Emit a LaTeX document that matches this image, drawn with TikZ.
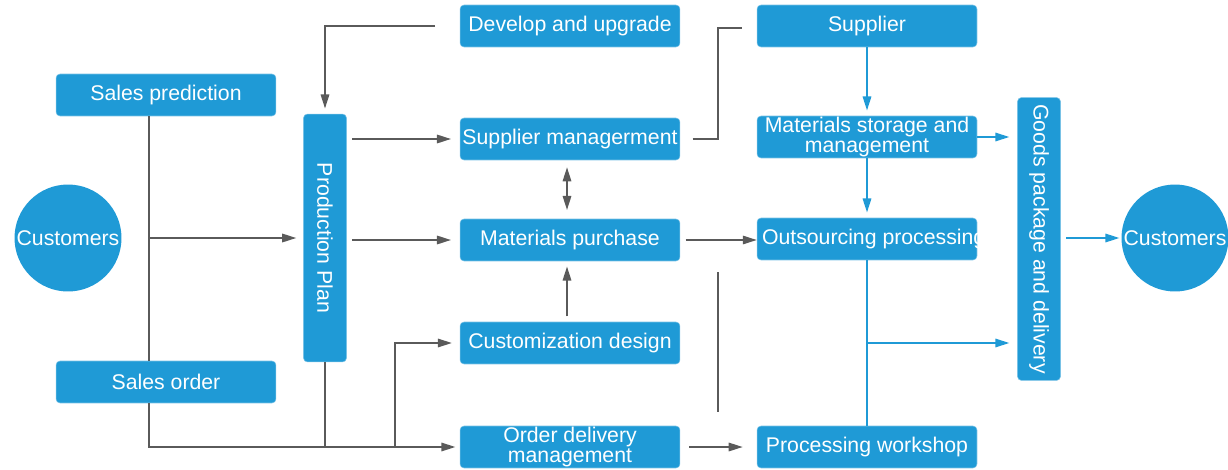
\documentclass[tikz,border=0pt]{standalone}
\usepackage{fontspec}
\setmainfont{Liberation Sans}
\usetikzlibrary{arrows.meta}
\definecolor{boxblue}{HTML}{1F9AD6}
\definecolor{linegray}{HTML}{5A5A5A}
\begin{document}
\begin{tikzpicture}[x=0.02cm,y=-0.02cm,
    >={Triangle[length=0.28cm,width=0.17cm]},
    box/.style={fill=boxblue,draw=boxblue!60!white,line width=0.3pt,rounded corners=0.08cm,
      text=white,minimum width=4.4cm,minimum height=0.84cm,inner sep=0pt,align=center,
      font=\fontsize{12.1}{11.3}\selectfont},
    bar/.style={box,minimum width=0.86cm,minimum height=#1},
    disc/.style={circle,fill=boxblue,text=white,minimum size=2.14cm,inner sep=0pt,
      font=\fontsize{12.1}{11.3}\selectfont},
    gline/.style={linegray,line width=0.9pt},
    bline/.style={boxblue,line width=0.9pt}]
  \useasboundingbox (0,0) rectangle (1228,470);
  \node[box] (dev) at (570,26) {Develop and upgrade};
  \node[box] (pred) at (166,95) {Sales prediction};
  \node[box] (order) at (166,382) {Sales order};
  \node[disc] (custL) at (68,238) {Customers};
  \node[bar=4.96cm] (plan) at (325,238) {\rotatebox{-90}{Production Plan}};
  \node[box] (supm) at (570,139) {Supplier managerment};
  \node[box] (purch) at (570,240) {Materials purchase};
  \node[box] (design) at (570,343) {Customization design};
  \node[box] (deliv) at (570,447) {Order delivery\\[-0.3pt]management};
  \node[box] (supplier) at (867,26) {Supplier};
  \node[box] (store) at (867,137) {Materials storage and\\management};
  \node[box] (outs) at (867,239) {\makebox[4.2cm][l]{Outsourcing processing}};
  \node[box] (shop) at (867,447) {Processing workshop};
  \node[bar=5.66cm] (goods) at (1039,239) {\rotatebox{-90}{Goods package and delivery}};
  \node[disc] (custR) at (1175,238) {Customers};
  \coordinate (devin) at (435,26);
  \coordinate (vx) at (149,0);
  \coordinate (jd) at (395,447);
  \coordinate (bend) at (718,0);
  \coordinate (supin) at (742,28);
  \coordinate (lt) at (718,272);
  \coordinate (lb) at (718,412);
  \coordinate (bj) at (867,343);
  \begin{scope}[gline]
    \draw[->,shorten >=3pt] (devin) -| (plan.north);
    \draw (pred.south -| vx) -- (order.north -| vx);
    \draw[->,shorten >=2.5pt] (order.south -| vx) |- (deliv.west);
    \draw (plan.south) -- (plan.south |- deliv.west);
    \draw[->,shorten >=4.5pt] (jd) |- (design.west);
    \draw[->,shorten >=4pt] (custL.east -| vx) -- (plan.west);
    \draw[->,shorten <=3pt,shorten >=5pt] (plan.east |- supm.west) -- (supm.west);
    \draw[->,shorten <=3pt,shorten >=5pt] (plan.east |- purch.west) -- (purch.west);
    \draw[<->,shorten <=4pt,shorten >=5pt] ([xshift=-0.06cm]supm.south) -- ([xshift=-0.06cm]purch.north);
    \draw[->,shorten <=3pt,shorten >=3pt] ([xshift=-0.06cm]design.north) -- ([xshift=-0.06cm]purch.south);
    \draw[shorten <=7pt] (supm.east) -- (supm.east -| bend) |- (supin);
    \draw[->,shorten <=3pt] (purch.east) -- (purch.east -| outs.west);
    \draw (lt) -- (lb);
    \draw[->,shorten <=5pt,shorten >=8pt] (deliv.east) -- (shop.west);
  \end{scope}
  \begin{scope}[bline]
    \draw[->,shorten >=3pt] (supplier.south) -- (store.north);
    \draw[->,shorten >=3pt] (store.south) -- (outs.north);
    \draw[->,shorten >=4.5pt] (store.east) -- (store.east -| goods.west);
    \draw (outs.south) -- (shop.north);
    \draw[->,shorten >=4.5pt] (bj) -- (bj -| goods.west);
    \draw[->,shorten <=3pt,shorten >=1pt] (goods.east |- custR.west) -- (custR.west);
  \end{scope}
\end{tikzpicture}
\end{document}
